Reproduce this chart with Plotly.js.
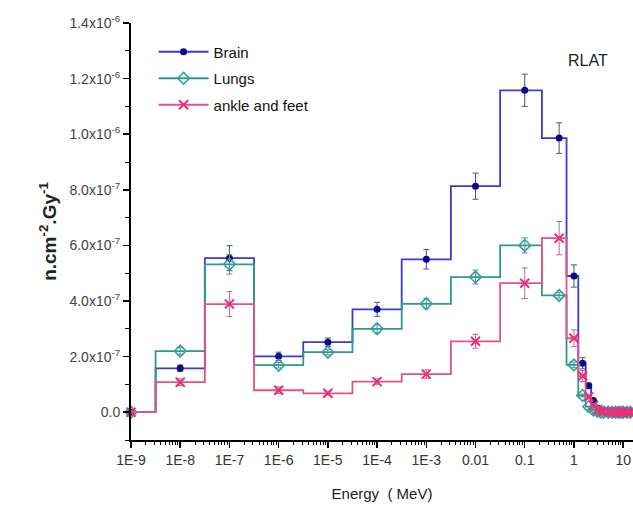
<!DOCTYPE html>
<html>
<head>
<meta charset="utf-8">
<script src="https://cdn.plot.ly/plotly-3.0.1.min.js"></script>
<style>html,body{margin:0;padding:0;background:#fff;}#chart{width:633px;height:505px;}</style>
</head>
<body>
<div id="chart"></div>
<script>
// Energy points (MeV)
var energy = [1e-9, 1e-8, 1e-7, 1e-6, 1e-5, 1e-4, 1e-3, 0.01, 0.1, 0.5, 1, 1.5, 2, 2.5, 3, 3.5, 4, 5, 6, 7, 8, 9, 10, 12, 14, 16, 18, 20];
// Fluence per dose (n.cm^-2.Gy^-1)
var brain = [0, 1.58e-7, 5.54e-7, 2.01e-7, 2.52e-7, 3.70e-7, 5.50e-7, 8.13e-7, 1.158e-6, 9.86e-7, 4.90e-7, 1.76e-7, 0.95e-7, 0.42e-7, 0.15e-7, 0.06e-7, 0.03e-7, 0.01e-7, 0, 0, 0, 0, 0, 0, 0, 0, 0, 0];
var brainErr = [0, 0.12e-7, 0.45e-7, 0.15e-7, 0.15e-7, 0.25e-7, 0.35e-7, 0.47e-7, 0.58e-7, 0.55e-7, 0.40e-7, 0.20e-7, 0.10e-7, 0, 0, 0, 0, 0, 0, 0, 0, 0, 0, 0, 0, 0, 0, 0];
var lungs = [0, 2.20e-7, 5.32e-7, 1.69e-7, 2.16e-7, 3.00e-7, 3.90e-7, 4.86e-7, 6.00e-7, 4.20e-7, 1.70e-7, 0.60e-7, 0.20e-7, 0.08e-7, 0.03e-7, 0.01e-7, 0, 0, 0, 0, 0, 0, 0, 0, 0, 0, 0, 0];
var lungsErr = [0, 0.12e-7, 0.35e-7, 0.10e-7, 0.10e-7, 0.15e-7, 0.18e-7, 0.25e-7, 0.27e-7, 0.10e-7, 0.10e-7, 0.05e-7, 0, 0, 0, 0, 0, 0, 0, 0, 0, 0, 0, 0, 0, 0, 0, 0];
var ankle = [0, 1.08e-7, 3.89e-7, 0.79e-7, 0.68e-7, 1.10e-7, 1.37e-7, 2.55e-7, 4.64e-7, 6.26e-7, 2.66e-7, 1.30e-7, 0.55e-7, 0.25e-7, 0.10e-7, 0.04e-7, 0.02e-7, 0.01e-7, 0, 0, 0, 0, 0, 0, 0, 0, 0, 0];
var ankleErr = [0, 0.12e-7, 0.45e-7, 0.12e-7, 0.06e-7, 0.10e-7, 0.15e-7, 0.25e-7, 0.55e-7, 0.60e-7, 0.30e-7, 0.20e-7, 0.08e-7, 0, 0, 0, 0, 0, 0, 0, 0, 0, 0, 0, 0, 0, 0, 0];

var seriesNames = ['Brain', 'Lungs', 'ankle and feet'];
var xTickVals = [1e-9, 1e-8, 1e-7, 1e-6, 1e-5, 1e-4, 1e-3, 0.01, 0.1, 1, 10];
var xTickText = ['1E-9', '1E-8', '1E-7', '1E-6', '1E-5', '1E-4', '1E-3', '0.01', '0.1', '1', '10'];
var yTickVals = [0, 2e-7, 4e-7, 6e-7, 8e-7, 1e-6, 1.2e-6, 1.4e-6];
var yTickText = ['0.0', '2.0x10<sup>-7</sup>', '4.0x10<sup>-7</sup>', '6.0x10<sup>-7</sup>', '8.0x10<sup>-7</sup>', '1.0x10<sup>-6</sup>', '1.2x10<sup>-6</sup>', '1.4x10<sup>-6</sup>'];

var font = 'Liberation Sans, Arial, sans-serif';

var traces = [
  {
    x: energy, y: brain, name: seriesNames[0], legendgroup: 'a',
    mode: 'lines+markers', type: 'scatter', cliponaxis: false,
    line: {shape: 'hvh', color: '#3a3ad6', width: 1.8},
    marker: {symbol: 'circle', size: 7, color: '#0a0a8a', line: {width: 0}},
    error_y: {type: 'data', array: brainErr, visible: true, color: '#555566', thickness: 1, width: 3}
  },
  {
    x: energy, y: lungs, name: seriesNames[1], legendgroup: 'b',
    mode: 'lines+markers', type: 'scatter', cliponaxis: false,
    line: {shape: 'hvh', color: '#2e9a8c', width: 1.8},
    marker: {symbol: 'diamond-open', size: 9, color: '#2fa3a3', line: {width: 1.6, color: '#2fa3a3'}},
    error_y: {type: 'data', array: lungsErr, visible: true, color: '#5a8c8c', thickness: 1, width: 3}
  },
  {
    x: energy, y: ankle, name: seriesNames[2], legendgroup: 'c',
    mode: 'lines+markers', type: 'scatter', cliponaxis: false,
    line: {shape: 'hvh', color: '#e4508c', width: 1.8},
    marker: {symbol: 'x-thin', size: 9, color: '#e8307a', line: {width: 2, color: '#e8307a'}},
    error_y: {type: 'data', array: ankleErr, visible: true, color: '#c06a90', thickness: 1, width: 3}
  }
];

var layout = {
  width: 633, height: 505,
  margin: {l: 131, r: 0, t: 23, b: 65},
  paper_bgcolor: '#fff', plot_bgcolor: '#fff',
  font: {family: font, color: '#222'},
  showlegend: true,
  legend: {
    x: 0.045, y: 0.97, xanchor: 'left', yanchor: 'top',
    bgcolor: 'rgba(0,0,0,0)', font: {family: font, size: 15, color: '#111'},
    traceorder: 'grouped', tracegroupgap: 4, itemwidth: 50
  },
  xaxis: {
    type: 'log', range: [-9, 1.2],
    tickmode: 'array', tickvals: xTickVals, ticktext: xTickText,
    ticks: 'outside', ticklen: 6, tickwidth: 1.5, tickcolor: '#000',
    minor: {dtick: 'D1', ticks: 'outside', ticklen: 3, tickwidth: 1, tickcolor: '#000'},
    showline: true, linecolor: '#000', linewidth: 2, mirror: false,
    showgrid: false, zeroline: false,
    tickfont: {family: font, size: 14, color: '#333'},
    title: {text: 'Energy  ( MeV)', font: {family: font, size: 15, color: '#222'}, standoff: 22}
  },
  yaxis: {
    range: [-1e-7, 1.4e-6],
    tickmode: 'array', tickvals: yTickVals, ticktext: yTickText,
    ticks: 'outside', ticklen: 6, tickwidth: 1.5, tickcolor: '#000',
    minor: {tickmode: 'linear', tick0: 0, dtick: 1e-7, ticks: 'outside', ticklen: 4, tickwidth: 1, tickcolor: '#000'},
    showline: true, linecolor: '#000', linewidth: 2, mirror: false,
    showgrid: false, zeroline: false,
    tickfont: {family: font, size: 14, color: '#444'},
    title: {text: '<b>n.cm<sup>-2</sup>.Gy<sup>-1</sup></b>', font: {family: font, size: 19, color: '#222'}, standoff: 8}
  },
  annotations: [
    {xref: 'paper', yref: 'paper', x: 0.91, y: 0.91, text: 'RLAT', showarrow: false,
     font: {family: font, size: 16, color: '#222'}, xanchor: 'center', yanchor: 'middle'}
  ]
};

Plotly.newPlot('chart', traces, layout, {displayModeBar: false, staticPlot: true});
</script>
</body>
</html>
